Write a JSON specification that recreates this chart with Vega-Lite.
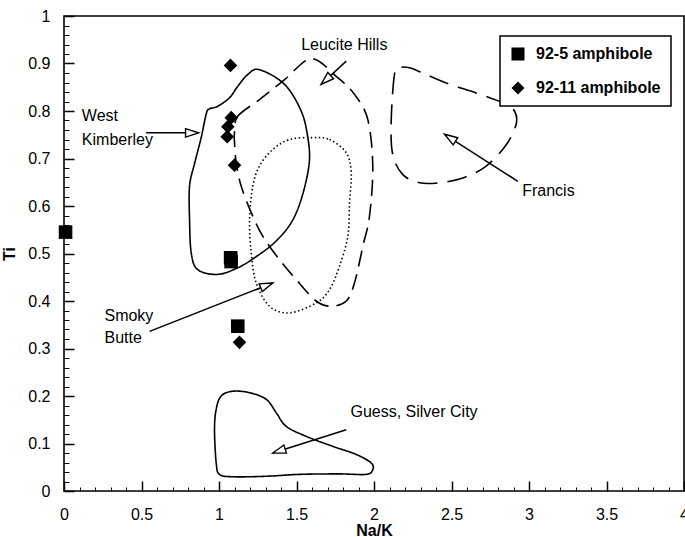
{
  "$schema": "https://vega.github.io/schema/vega-lite/v6.json",
  "width": 620,
  "height": 475,
  "autosize": "none",
  "padding": {"left": 64, "top": 16, "right": 1, "bottom": 46},
  "background": "white",
  "config": {
    "view": {"stroke": "black", "strokeWidth": 1.6},
    "font": "Liberation Sans",
    "legend": {"strokeWidth": 1.5}
  },
  "datasets": {
    "contours": [
      {"contour": "West Kimberley", "i": 0, "x": 1.261, "y": 0.887},
      {"contour": "West Kimberley", "i": 1, "x": 1.423, "y": 0.856},
      {"contour": "West Kimberley", "i": 2, "x": 1.53, "y": 0.8},
      {"contour": "West Kimberley", "i": 3, "x": 1.573, "y": 0.744},
      {"contour": "West Kimberley", "i": 4, "x": 1.582, "y": 0.69},
      {"contour": "West Kimberley", "i": 6, "x": 1.535, "y": 0.619},
      {"contour": "West Kimberley", "i": 7, "x": 1.466, "y": 0.565},
      {"contour": "West Kimberley", "i": 8, "x": 1.358, "y": 0.523},
      {"contour": "West Kimberley", "i": 9, "x": 1.229, "y": 0.491},
      {"contour": "West Kimberley", "i": 10, "x": 1.121, "y": 0.47},
      {"contour": "West Kimberley", "i": 11, "x": 0.992, "y": 0.456},
      {"contour": "West Kimberley", "i": 12, "x": 0.863, "y": 0.466},
      {"contour": "West Kimberley", "i": 13, "x": 0.821, "y": 0.501},
      {"contour": "West Kimberley", "i": 14, "x": 0.81, "y": 0.572},
      {"contour": "West Kimberley", "i": 15, "x": 0.81, "y": 0.642},
      {"contour": "West Kimberley", "i": 16, "x": 0.842, "y": 0.689},
      {"contour": "West Kimberley", "i": 17, "x": 0.885, "y": 0.744},
      {"contour": "West Kimberley", "i": 18, "x": 0.917, "y": 0.793},
      {"contour": "West Kimberley", "i": 19, "x": 0.935, "y": 0.804},
      {"contour": "West Kimberley", "i": 20, "x": 0.992, "y": 0.81},
      {"contour": "West Kimberley", "i": 21, "x": 1.068, "y": 0.828},
      {"contour": "West Kimberley", "i": 22, "x": 1.121, "y": 0.852},
      {"contour": "West Kimberley", "i": 23, "x": 1.186, "y": 0.877},
      {"contour": "Leucite Hills", "i": 0, "x": 1.1, "y": 0.755},
      {"contour": "Leucite Hills", "i": 1, "x": 1.121, "y": 0.789},
      {"contour": "Leucite Hills", "i": 2, "x": 1.261, "y": 0.824},
      {"contour": "Leucite Hills", "i": 3, "x": 1.423, "y": 0.866},
      {"contour": "Leucite Hills", "i": 4, "x": 1.595, "y": 0.91},
      {"contour": "Leucite Hills", "i": 5, "x": 1.756, "y": 0.873},
      {"contour": "Leucite Hills", "i": 6, "x": 1.874, "y": 0.835},
      {"contour": "Leucite Hills", "i": 7, "x": 1.96, "y": 0.782},
      {"contour": "Leucite Hills", "i": 8, "x": 1.992, "y": 0.684},
      {"contour": "Leucite Hills", "i": 9, "x": 1.971, "y": 0.579},
      {"contour": "Leucite Hills", "i": 10, "x": 1.928, "y": 0.515},
      {"contour": "Leucite Hills", "i": 11, "x": 1.874, "y": 0.438},
      {"contour": "Leucite Hills", "i": 12, "x": 1.821, "y": 0.4},
      {"contour": "Leucite Hills", "i": 13, "x": 1.724, "y": 0.389},
      {"contour": "Leucite Hills", "i": 14, "x": 1.627, "y": 0.4},
      {"contour": "Leucite Hills", "i": 15, "x": 1.498, "y": 0.445},
      {"contour": "Leucite Hills", "i": 16, "x": 1.39, "y": 0.487},
      {"contour": "Leucite Hills", "i": 17, "x": 1.283, "y": 0.536},
      {"contour": "Leucite Hills", "i": 18, "x": 1.208, "y": 0.586},
      {"contour": "Leucite Hills", "i": 19, "x": 1.143, "y": 0.642},
      {"contour": "Leucite Hills", "i": 20, "x": 1.111, "y": 0.691},
      {"contour": "Leucite Hills", "i": 21, "x": 1.1, "y": 0.734},
      {"contour": "Smoky Butte", "i": 0, "x": 1.595, "y": 0.744},
      {"contour": "Smoky Butte", "i": 1, "x": 1.713, "y": 0.74},
      {"contour": "Smoky Butte", "i": 2, "x": 1.821, "y": 0.712},
      {"contour": "Smoky Butte", "i": 3, "x": 1.853, "y": 0.67},
      {"contour": "Smoky Butte", "i": 4, "x": 1.842, "y": 0.607},
      {"contour": "Smoky Butte", "i": 5, "x": 1.831, "y": 0.536},
      {"contour": "Smoky Butte", "i": 6, "x": 1.777, "y": 0.473},
      {"contour": "Smoky Butte", "i": 7, "x": 1.713, "y": 0.424},
      {"contour": "Smoky Butte", "i": 8, "x": 1.627, "y": 0.396},
      {"contour": "Smoky Butte", "i": 9, "x": 1.455, "y": 0.375},
      {"contour": "Smoky Butte", "i": 10, "x": 1.326, "y": 0.389},
      {"contour": "Smoky Butte", "i": 11, "x": 1.24, "y": 0.438},
      {"contour": "Smoky Butte", "i": 12, "x": 1.208, "y": 0.501},
      {"contour": "Smoky Butte", "i": 13, "x": 1.197, "y": 0.572},
      {"contour": "Smoky Butte", "i": 14, "x": 1.218, "y": 0.642},
      {"contour": "Smoky Butte", "i": 15, "x": 1.261, "y": 0.684},
      {"contour": "Smoky Butte", "i": 16, "x": 1.347, "y": 0.719},
      {"contour": "Smoky Butte", "i": 17, "x": 1.455, "y": 0.74},
      {"contour": "Francis", "i": 0, "x": 2.165, "y": 0.891},
      {"contour": "Francis", "i": 1, "x": 2.132, "y": 0.877},
      {"contour": "Francis", "i": 2, "x": 2.111, "y": 0.779},
      {"contour": "Francis", "i": 3, "x": 2.121, "y": 0.708},
      {"contour": "Francis", "i": 4, "x": 2.186, "y": 0.666},
      {"contour": "Francis", "i": 5, "x": 2.294, "y": 0.649},
      {"contour": "Francis", "i": 6, "x": 2.423, "y": 0.649},
      {"contour": "Francis", "i": 7, "x": 2.573, "y": 0.659},
      {"contour": "Francis", "i": 8, "x": 2.724, "y": 0.684},
      {"contour": "Francis", "i": 9, "x": 2.853, "y": 0.729},
      {"contour": "Francis", "i": 10, "x": 2.917, "y": 0.772},
      {"contour": "Francis", "i": 11, "x": 2.906, "y": 0.8},
      {"contour": "Francis", "i": 12, "x": 2.831, "y": 0.817},
      {"contour": "Francis", "i": 13, "x": 2.659, "y": 0.838},
      {"contour": "Francis", "i": 14, "x": 2.466, "y": 0.859},
      {"contour": "Francis", "i": 15, "x": 2.315, "y": 0.88},
      {"contour": "Francis", "i": 16, "x": 2.229, "y": 0.891},
      {"contour": "Guess, Silver City", "i": 0, "x": 1.089, "y": 0.21},
      {"contour": "Guess, Silver City", "i": 1, "x": 1.197, "y": 0.207},
      {"contour": "Guess, Silver City", "i": 2, "x": 1.305, "y": 0.193},
      {"contour": "Guess, Silver City", "i": 3, "x": 1.369, "y": 0.165},
      {"contour": "Guess, Silver City", "i": 4, "x": 1.434, "y": 0.136},
      {"contour": "Guess, Silver City", "i": 5, "x": 1.563, "y": 0.115},
      {"contour": "Guess, Silver City", "i": 6, "x": 1.734, "y": 0.094},
      {"contour": "Guess, Silver City", "i": 7, "x": 1.885, "y": 0.077},
      {"contour": "Guess, Silver City", "i": 8, "x": 1.982, "y": 0.059},
      {"contour": "Guess, Silver City", "i": 9, "x": 1.992, "y": 0.045},
      {"contour": "Guess, Silver City", "i": 10, "x": 1.95, "y": 0.035},
      {"contour": "Guess, Silver City", "i": 11, "x": 1.777, "y": 0.036},
      {"contour": "Guess, Silver City", "i": 12, "x": 1.519, "y": 0.035},
      {"contour": "Guess, Silver City", "i": 13, "x": 1.305, "y": 0.031},
      {"contour": "Guess, Silver City", "i": 14, "x": 1.089, "y": 0.03},
      {"contour": "Guess, Silver City", "i": 15, "x": 1.003, "y": 0.035},
      {"contour": "Guess, Silver City", "i": 16, "x": 0.982, "y": 0.059},
      {"contour": "Guess, Silver City", "i": 17, "x": 0.971, "y": 0.129},
      {"contour": "Guess, Silver City", "i": 18, "x": 0.982, "y": 0.172},
      {"contour": "Guess, Silver City", "i": 19, "x": 1.014, "y": 0.2}
    ],
    "arrows": [
      {"label": "West Kimberley", "x": 0.53, "y": 0.754, "x2": 0.868, "y2": 0.754},
      {"label": "Leucite Hills", "x": 1.821, "y": 0.905, "x2": 1.659, "y2": 0.856},
      {"label": "Francis", "x": 2.928, "y": 0.652, "x2": 2.455, "y2": 0.751},
      {"label": "Smoky Butte", "x": 0.552, "y": 0.336, "x2": 1.347, "y2": 0.438},
      {"label": "Guess, Silver City", "x": 1.821, "y": 0.129, "x2": 1.347, "y2": 0.08}
    ],
    "labels": [
      {"text": "Leucite Hills", "x": 1.53, "y": 0.94},
      {"text": "West", "x": 0.115, "y": 0.789},
      {"text": "Kimberley", "x": 0.115, "y": 0.74},
      {"text": "Smoky", "x": 0.261, "y": 0.368},
      {"text": "Butte", "x": 0.261, "y": 0.322},
      {"text": "Francis", "x": 2.956, "y": 0.631},
      {"text": "Guess, Silver City", "x": 1.848, "y": 0.166}
    ],
    "samples": [
      {"series": "92-5 amphibole", "x": 0.01, "y": 0.545},
      {"series": "92-5 amphibole", "x": 1.075, "y": 0.491},
      {"series": "92-5 amphibole", "x": 1.078, "y": 0.483},
      {"series": "92-5 amphibole", "x": 1.121, "y": 0.347},
      {"series": "92-11 amphibole", "x": 1.074, "y": 0.896},
      {"series": "92-11 amphibole", "x": 1.079, "y": 0.786},
      {"series": "92-11 amphibole", "x": 1.057, "y": 0.767},
      {"series": "92-11 amphibole", "x": 1.053, "y": 0.746},
      {"series": "92-11 amphibole", "x": 1.1, "y": 0.686},
      {"series": "92-11 amphibole", "x": 1.132, "y": 0.313}
    ]
  },
  "resolve": {"axis": {"x": "independent", "y": "independent"}},
  "layer": [
    {
      "encoding": {
        "x": {
          "field": "x",
          "type": "quantitative",
          "scale": {"domain": [0, 4], "nice": false, "zero": false},
          "axis": {
            "orient": "bottom",
            "title": "Na/K",
            "values": [0, 0.5, 1, 1.5, 2, 2.5, 3, 3.5, 4],
            "format": "~g",
            "offset": -10,
            "tickSize": 10,
            "tickWidth": 1.5,
            "tickColor": "black",
            "domain": false,
            "labelPadding": 15,
            "labelFontSize": 16,
            "labelFont": "Liberation Sans",
            "labelColor": "black",
            "labelFlush": false,
            "labelOverlap": false,
            "labelBound": false,
            "titleFont": "Liberation Sans",
            "titleFontSize": 16,
            "titleFontWeight": "bold",
            "titleColor": "black",
            "titleY": 49,
            "titleBaseline": "middle",
            "grid": false
          }
        },
        "y": {
          "field": "y",
          "type": "quantitative",
          "scale": {"domain": [0, 1], "nice": false, "zero": false},
          "axis": {
            "orient": "left",
            "title": "Ti",
            "values": [0, 0.1, 0.2, 0.3, 0.4, 0.5, 0.6, 0.7, 0.8, 0.9, 1],
            "format": "~g",
            "offset": -10,
            "tickSize": 10,
            "tickWidth": 1.5,
            "tickColor": "black",
            "domain": false,
            "labelPadding": 14,
            "labelFontSize": 16,
            "labelFont": "Liberation Sans",
            "labelColor": "black",
            "labelFlush": false,
            "labelOverlap": false,
            "labelBound": false,
            "titleFont": "Liberation Sans",
            "titleFontSize": 16,
            "titleFontWeight": "bold",
            "titleColor": "black",
            "titleX": -65,
            "titleBaseline": "middle",
            "grid": false
          }
        }
      },
      "layer": [
        {
          "data": {"name": "contours"},
          "mark": {"type": "line", "interpolate": "cardinal-closed", "color": "black", "strokeWidth": 1.6},
          "encoding": {
            "detail": {"field": "contour"},
            "order": {"field": "i", "type": "quantitative"},
            "strokeDash": {
              "field": "contour",
              "type": "nominal",
              "scale": {
                "domain": ["West Kimberley", "Leucite Hills", "Smoky Butte", "Francis", "Guess, Silver City"],
                "range": [[1, 0], [16, 8], [1.5, 2.5], [20, 10], [1, 0]]
              },
              "legend": null
            }
          }
        },
        {
          "data": {"name": "arrows"},
          "mark": {"type": "rule", "color": "black", "strokeWidth": 1.5},
          "encoding": {
            "x2": {"field": "x2"},
            "y2": {"field": "y2"}
          }
        },
        {
          "data": {"name": "arrows"},
          "transform": [
            {"calculate": "atan2((datum.x2-datum.x)*155,(datum.y2-datum.y)*475)*180/PI", "as": "angle"}
          ],
          "mark": {"type": "point", "shape": "M0,0L0.65,2L-0.65,2Z", "filled": true, "fill": "white", "stroke": "black", "strokeWidth": 1.4, "size": 169, "opacity": 1},
          "encoding": {
            "x": {"field": "x2", "type": "quantitative"},
            "y": {"field": "y2", "type": "quantitative"},
            "angle": {"field": "angle", "type": "quantitative", "scale": null}
          }
        },
        {
          "data": {"name": "labels"},
          "mark": {"type": "text", "align": "left", "baseline": "middle", "fontSize": 16, "font": "Liberation Sans", "color": "black"},
          "encoding": {
            "text": {"field": "text"}
          }
        },
        {
          "data": {"name": "samples"},
          "mark": {"type": "point", "filled": true, "color": "black", "opacity": 1, "size": 185},
          "encoding": {
            "shape": {
              "field": "series",
              "type": "nominal",
              "scale": {"domain": ["92-5 amphibole", "92-11 amphibole"], "range": ["square", "diamond"]},
              "legend": {
                "title": null,
                "orient": "none",
                "legendX": 436,
                "legendY": 20,
                "strokeColor": "black",
                "fillColor": "white",
                "padding": 10,
                "rowPadding": 18,
                "labelFontSize": 16,
                "labelFontWeight": "bold",
                "labelFont": "Liberation Sans",
                "labelColor": "black",
                "labelOffset": 10,
                "symbolSize": 170,
                "symbolFillColor": "black",
                "symbolStrokeColor": "black",
                "symbolStrokeWidth": 0
              }
            }
          }
        }
      ]
    },
    {
      "data": {"name": "samples"},
      "mark": {"type": "point", "opacity": 0},
      "encoding": {
        "x": {
          "field": "x",
          "type": "quantitative",
          "scale": {"domain": [0, 4], "nice": false, "zero": false},
          "axis": {
            "orient": "bottom",
            "title": null,
            "values": [0.1, 0.2, 0.3, 0.4, 0.6, 0.7, 0.8, 0.9, 1.1, 1.2, 1.3, 1.4, 1.6, 1.7, 1.8, 1.9, 2.1, 2.2, 2.3, 2.4, 2.6, 2.7, 2.8, 2.9, 3.1, 3.2, 3.3, 3.4, 3.6, 3.7, 3.8, 3.9],
            "labels": false,
            "domain": false,
            "grid": false,
            "offset": -4,
            "tickSize": 4,
            "tickWidth": 1,
            "tickColor": "black"
          }
        },
        "y": {
          "field": "y",
          "type": "quantitative",
          "scale": {"domain": [0, 1], "nice": false, "zero": false},
          "axis": {
            "orient": "left",
            "title": null,
            "values": [0.02, 0.04, 0.06, 0.08, 0.12, 0.14, 0.16, 0.18, 0.22, 0.24, 0.26, 0.28, 0.32, 0.34, 0.36, 0.38, 0.42, 0.44, 0.46, 0.48, 0.52, 0.54, 0.56, 0.58, 0.62, 0.64, 0.66, 0.68, 0.72, 0.74, 0.76, 0.78, 0.82, 0.84, 0.86, 0.88, 0.92, 0.94, 0.96, 0.98],
            "labels": false,
            "domain": false,
            "grid": false,
            "offset": -5,
            "tickSize": 5,
            "tickWidth": 1,
            "tickColor": "black"
          }
        }
      }
    }
  ]
}
